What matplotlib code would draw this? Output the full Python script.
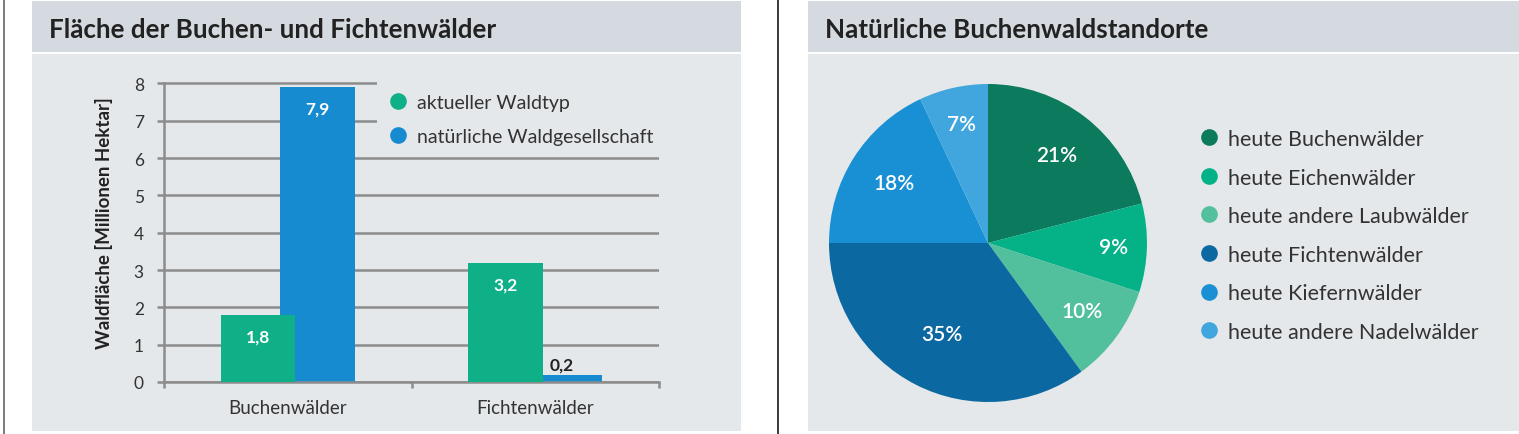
import matplotlib
matplotlib.use('Agg')
import matplotlib.pyplot as plt
from matplotlib.patches import Rectangle
from matplotlib.lines import Line2D
import numpy as np

# ---------------- data ----------------
bar_title = "Fläche der Buchen- und Fichtenwälder"
bar_categories = ["Buchenwälder", "Fichtenwälder"]
series_names = ["aktueller Waldtyp", "natürliche Waldgesellschaft"]
aktuell = [1.8, 3.2]
natuerlich = [7.9, 0.2]
y_ticks = [0, 1, 2, 3, 4, 5, 6, 7, 8]
y_label = "Waldfläche [Millionen Hektar]"

pie_title = "Natürliche Buchenwaldstandorte"
pie_labels = ["heute Buchenwälder", "heute Eichenwälder", "heute andere Laubwälder",
              "heute Fichtenwälder", "heute Kiefernwälder", "heute andere Nadelwälder"]
pie_values = [21, 9, 10, 35, 18, 7]

# ---------------- style ----------------
plt.rcParams['font.family'] = ['Lato', 'DejaVu Sans']
GREEN = '#0fb088'
BLUE = '#178bd0'
PIE_COLORS = ['#0b7a5d', '#05b287', '#52bf9d', '#0c68a0', '#1890d3', '#42a6de']
BAND = '#d4dadf'
BODY = '#e4e8eb'
GRID = '#8c8c8c'
TXT = '#222222'

W, H = 1519, 435
fig = plt.figure(figsize=(W / 100, H / 100), dpi=100)
fig.patch.set_facecolor('white')


def fx(x):
    return x / W


def fy(y):
    return 1 - y / H


def rect(x0, y0, x1, y1, color, z=-5):
    fig.add_artist(Rectangle((fx(x0), fy(y1)), fx(x1) - fx(x0), fy(y0) - fy(y1),
                             transform=fig.transFigure, facecolor=color,
                             edgecolor='none', zorder=z))


def vline(x, y0, y1, color, lw):
    fig.add_artist(Line2D([fx(x), fx(x)], [fy(y0), fy(y1)], transform=fig.transFigure,
                          color=color, lw=lw, zorder=-4))


# panels
rect(32, 2, 741, 53, BAND)
rect(32, 55, 741, 432, BODY)
rect(808, 2, 1519, 53, BAND)
rect(808, 55, 1519, 432, BODY)
vline(3.5, 0, 435, '#7a7a7a', 1.4)
vline(778, 0, 435, '#3a3a3a', 1.4)

fig.text(fx(49), fy(37.5), bar_title, fontsize=18.7, weight='bold', color=TXT, va='baseline')
fig.text(fx(825), fy(38.5), pie_title, fontsize=18.7, weight='bold', color=TXT, va='baseline')

# ---------------- bar chart ----------------
px_per_unit = 37.33
ymax = 8.1
ax = fig.add_axes([fx(164), fy(383), fx(659) - fx(164), ymax * px_per_unit / H])
ax.set_facecolor('none')
ax.set_xlim(-0.5, 1.5)
ax.set_ylim(0, ymax)
x = np.arange(len(bar_categories))
off, bw = 0.12, 0.30
bars_n = ax.bar(x + off, natuerlich, bw, color=BLUE, zorder=2)
bars_a = ax.bar(x - off, aktuell, bw, color=GREEN, zorder=3)

ax.set_axisbelow(True)
ax.set_yticks(y_ticks)
ax.yaxis.grid(True, color=GRID, lw=1.8)
for s in ['top', 'right']:
    ax.spines[s].set_visible(False)
for s in ['left', 'bottom']:
    ax.spines[s].set_color(GRID)
    ax.spines[s].set_linewidth(1.8)
ax.spines['left'].set_bounds(0, 8)
ax.tick_params(axis='y', length=5, width=1.8, color=GRID, pad=9.5, labelsize=12.5,
               labelcolor='#333333')
ax.set_xticks(x)
ax.set_xticklabels(bar_categories)
ax.set_xticks([-0.5, 0.5, 1.5], minor=True)
ax.tick_params(axis='x', which='major', length=0, pad=12.5, labelsize=13.5, labelcolor='#333333')
ax.tick_params(axis='x', which='minor', length=4.5, width=1.8, color=GRID)
ax.set_ylabel(y_label, fontsize=13.5, weight='bold', color=TXT, va='center')
ax.yaxis.set_label_coords((104 - 164) / 495, (383 - 223) / (ymax * px_per_unit))

for bars in (bars_a, bars_n):
    for b in bars:
        v = b.get_height()
        cx = b.get_x() + b.get_width() / 2
        txt = f"{v:.1f}".replace('.', ',')
        if v >= 1:
            ax.annotate(txt, (cx, v), xytext=(0, -15.5), textcoords='offset points',
                        ha='center', va='center', color='white', fontsize=12.5,
                        weight='bold', zorder=5)
        else:
            ax.annotate(txt, (cx, v), xytext=(-2, 7), textcoords='offset points',
                        ha='center', va='center', color=TXT, fontsize=12.5,
                        weight='bold', zorder=5)

# cover behind legend
ax.add_patch(Rectangle((fx(377), fy(150)), fx(672) - fx(377), fy(78) - fy(150),
                       transform=fig.transFigure, facecolor=BODY, edgecolor='none',
                       zorder=1, clip_on=False))
handles = [Line2D([], [], ls='', marker='o', markersize=12, color=c, markeredgewidth=0)
           for c in (GREEN, BLUE)]
ax.legend(handles, series_names, loc='upper left', bbox_to_anchor=(fx(389.5), fy(95)),
          bbox_transform=fig.transFigure, frameon=False, borderpad=0, borderaxespad=0,
          handlelength=0.9, handletextpad=0.53, labelspacing=0.87, fontsize=14,
          labelcolor='#333333')

# ---------------- pie chart ----------------
r_px = 159
cx_px, cy_px = 988, 244
ax2 = fig.add_axes([fx(cx_px - r_px), fy(cy_px + r_px), 2 * r_px / W, 2 * r_px / H])
wedges, _ = ax2.pie(pie_values, colors=PIE_COLORS, startangle=90, counterclock=False,
                    radius=1, wedgeprops=dict(linewidth=0))
ax2.set_xlim(-1, 1)
ax2.set_ylim(-1, 1)
label_r = [0.70, 0.79, 0.73, 0.64, 0.70, 0.77]
for w, v, rr in zip(wedges, pie_values, label_r):
    mid = np.deg2rad((w.theta1 + w.theta2) / 2)
    ax2.text(rr * np.cos(mid), rr * np.sin(mid), f"{v}%", ha='center', va='center',
             color='white', fontsize=15, weight='semibold')

handles2 = [Line2D([], [], ls='', marker='o', markersize=12, color=c, markeredgewidth=0)
            for c in PIE_COLORS]
fig.legend(handles2, pie_labels, loc='upper left', bbox_to_anchor=(fx(1200.5), fy(130)),
           bbox_transform=fig.transFigure, frameon=False, borderpad=0, borderaxespad=0,
           handlelength=0.8, handletextpad=0.47, labelspacing=0.86, fontsize=15.5,
           labelcolor='#333333')

fig.savefig('out.png', dpi=100, facecolor='white')
